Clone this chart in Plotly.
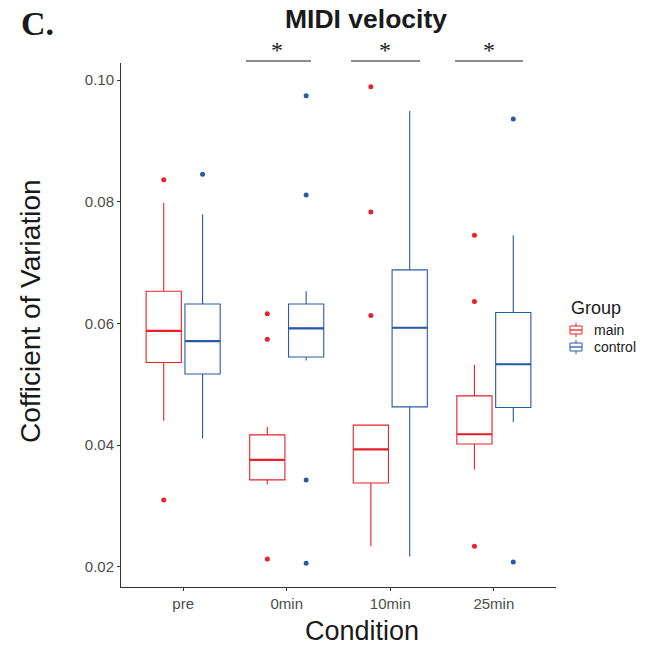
import plotly.graph_objects as go

conditions = ["pre", "0min", "10min", "25min"]
groups = ["main", "control"]

main_q1 = [0.0536, 0.0343, 0.0338, 0.0402]
main_median = [0.0588, 0.0376, 0.0393, 0.0418]
main_q3 = [0.0653, 0.0417, 0.0433, 0.0481]
main_lower = [0.0440, 0.0336, 0.0234, 0.0360]
main_upper = [0.0798, 0.0430, 0.0433, 0.0532]
main_outliers = [[0.0836, 0.0310], [0.0616, 0.0574, 0.0213],
                 [0.0989, 0.0783, 0.0613], [0.0745, 0.0636, 0.0234]]

control_q1 = [0.0517, 0.0545, 0.0463, 0.0462]
control_median = [0.0571, 0.0592, 0.0593, 0.0533]
control_q3 = [0.0632, 0.0632, 0.0688, 0.0618]
control_lower = [0.0411, 0.0539, 0.0217, 0.0438]
control_upper = [0.0779, 0.0653, 0.0949, 0.0745]
control_outliers = [[0.0845], [0.0974, 0.0811, 0.0343, 0.0206],
                    [], [0.0936, 0.0208]]

sig_labels = ["*", "*", "*"]

colors = {"main": "#E8222B", "control": "#2A59A6"}
dodge = 0.1875
bw = 0.34

stats = {
    "main": (main_q1, main_median, main_q3, main_lower, main_upper, main_outliers, -dodge),
    "control": (control_q1, control_median, control_q3, control_lower, control_upper, control_outliers, dodge),
}

fig = go.Figure()
for g in groups:
    q1, med, q3, lo, up, outs, off = stats[g]
    xs = [i + 1 + off for i in range(len(conditions))]
    fig.add_trace(go.Box(
        x=xs, q1=q1, median=med, q3=q3, lowerfence=lo, upperfence=up,
        width=bw, whiskerwidth=0, boxpoints=False,
        line=dict(color=colors[g], width=1.1),
        fillcolor="rgba(255,255,255,0)", name=g, showlegend=False,
        hoverinfo="skip"))
    mx, my = [], []
    for x, m in zip(xs, med):
        mx += [x - bw / 2, x + bw / 2, None]
        my += [m, m, None]
    fig.add_trace(go.Scatter(x=mx, y=my, mode="lines",
                             line=dict(color=colors[g], width=2.2),
                             showlegend=False, hoverinfo="skip"))
    ox, oy = [], []
    for x, o in zip(xs, outs):
        ox += [x] * len(o)
        oy += o
    fig.add_trace(go.Scatter(x=ox, y=oy, mode="markers",
                             marker=dict(color=colors[g], size=5),
                             showlegend=False, hoverinfo="skip"))

L, R, T, B = 121, 98, 63, 61
W, H = 654, 648
pw, ph = W - L - R, H - T - B

def px(xp):
    return (xp - L) / pw

def py(yp):
    return (H - B - yp) / ph

axis_common = dict(showgrid=False, zeroline=False, showline=True,
                   linecolor="#333333", linewidth=1, ticks="outside",
                   ticklen=3, tickcolor="#333333", tickwidth=1,
                   tickfont=dict(family="Liberation Sans", size=15, color="#4D4D4D"))

fig.update_xaxes(range=[0.4, 4.6], tickvals=[1, 2, 3, 4], ticktext=conditions,
                 **axis_common)
fig.update_yaxes(range=[0.0167, 0.1028], tickvals=[0.02, 0.04, 0.06, 0.08, 0.10],
                 ticktext=["0.02", "0.04", "0.06", "0.08", "0.10"], **axis_common)

annotations = [
    dict(text="<b>MIDI velocity</b>", x=px(366), y=py(19), xref="paper", yref="paper",
         showarrow=False, xanchor="center", yanchor="middle",
         font=dict(family="Liberation Sans", size=26.5, color="#1A1A1A")),
    dict(text="<b>C.</b>", x=px(37), y=py(23), xref="paper", yref="paper",
         showarrow=False, xanchor="center", yanchor="middle",
         font=dict(family="Liberation Serif", size=34, color="#1A1A1A")),
    dict(text="Cofficient of Variation", x=px(30), y=py(311), xref="paper", yref="paper",
         showarrow=False, xanchor="center", yanchor="middle", textangle=-90,
         font=dict(family="Liberation Sans", size=28, color="#1A1A1A")),
    dict(text="Condition", x=px(362), y=py(631), xref="paper", yref="paper",
         showarrow=False, xanchor="center", yanchor="middle",
         font=dict(family="Liberation Sans", size=27, color="#1A1A1A")),
    dict(text="Group", x=px(569), y=py(308), xref="paper", yref="paper",
         showarrow=False, xanchor="left", yanchor="middle",
         font=dict(family="Liberation Sans", size=18, color="#1A1A1A")),
]

shapes = []
# significance bars
sig_spans = [(246, 311), (351, 420), (455, 523)]
sig_centers = [277, 385, 489]
for (a, b), c, lab in zip(sig_spans, sig_centers, sig_labels):
    shapes.append(dict(type="line", xref="paper", yref="paper",
                       x0=px(a), x1=px(b), y0=py(61), y1=py(61),
                       line=dict(color="#1A1A1A", width=1.2)))
    annotations.append(dict(text=lab, x=px(c), y=py(50), xref="paper", yref="paper",
                            showarrow=False, xanchor="center", yanchor="middle",
                            font=dict(family="Liberation Serif", size=24, color="#1A1A1A")))

# legend
for g, yc in zip(groups, [330, 347]):
    col = colors[g]
    shapes.append(dict(type="rect", xref="paper", yref="paper",
                       x0=px(570), x1=px(582), y0=py(yc - 4), y1=py(yc + 4),
                       line=dict(color=col, width=1), fillcolor="rgba(255,255,255,0)"))
    shapes.append(dict(type="line", xref="paper", yref="paper",
                       x0=px(570), x1=px(582), y0=py(yc), y1=py(yc),
                       line=dict(color=col, width=1.3)))
    shapes.append(dict(type="line", xref="paper", yref="paper",
                       x0=px(576), x1=px(576), y0=py(yc - 7), y1=py(yc - 4),
                       line=dict(color=col, width=1)))
    shapes.append(dict(type="line", xref="paper", yref="paper",
                       x0=px(576), x1=px(576), y0=py(yc + 4), y1=py(yc + 7),
                       line=dict(color=col, width=1)))
    annotations.append(dict(text=g, x=px(592), y=py(yc), xref="paper", yref="paper",
                            showarrow=False, xanchor="left", yanchor="middle",
                            font=dict(family="Liberation Sans", size=14, color="#1A1A1A")))

fig.update_layout(
    width=W, height=H, margin=dict(l=L, r=R, t=T, b=B),
    plot_bgcolor="white", paper_bgcolor="white",
    showlegend=False, annotations=annotations, shapes=shapes,
)

fig.write_html("out.html")
